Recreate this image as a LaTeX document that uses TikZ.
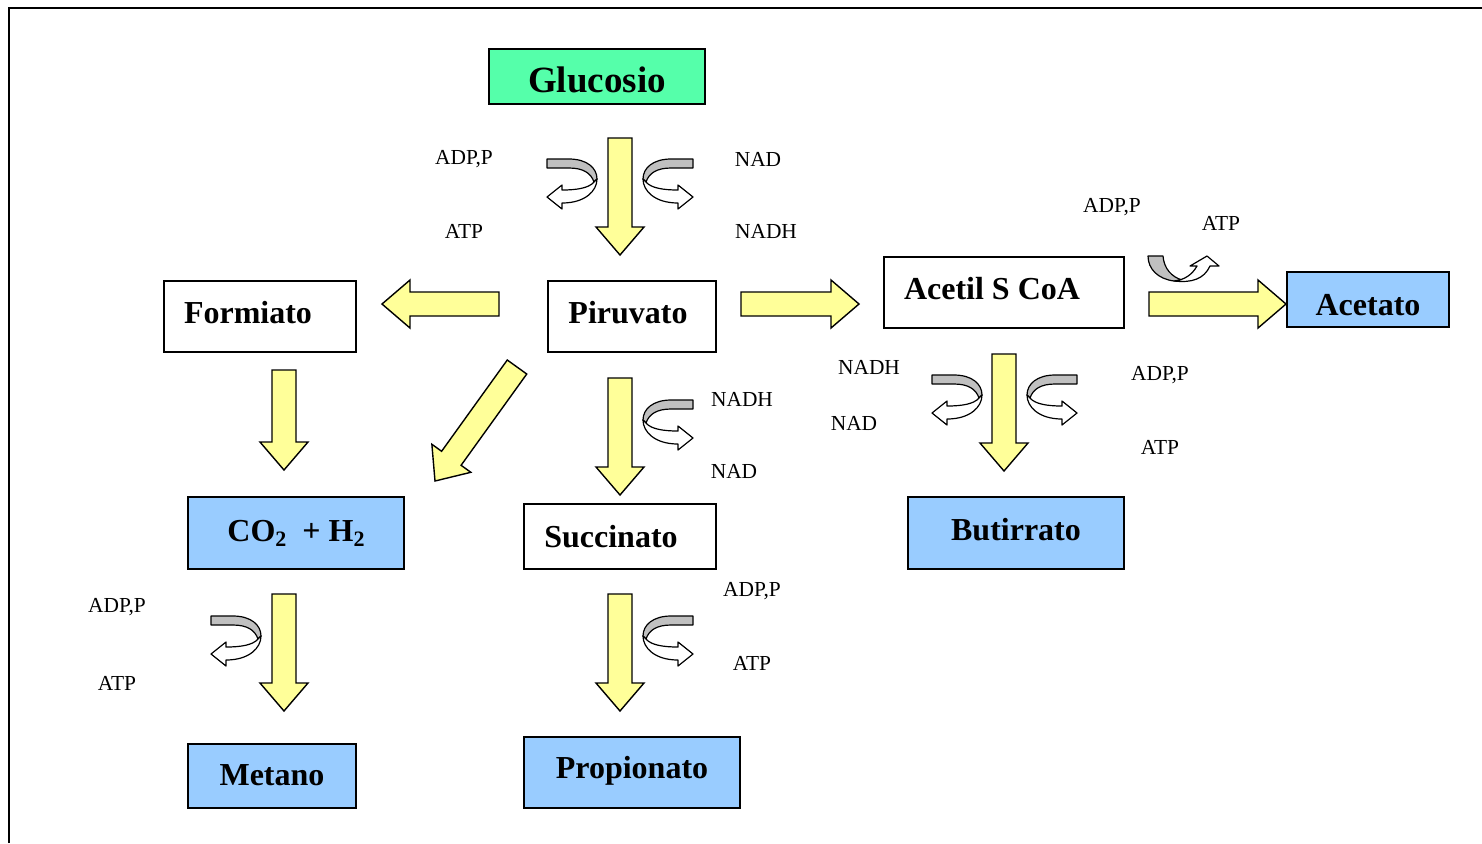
\documentclass[tikz,border=0pt]{standalone}
\usepackage{fontspec}
\setmainfont{Liberation Serif}
\usetikzlibrary{calc}
\definecolor{verdeglu}{HTML}{55FFAA}
\definecolor{azzurro}{HTML}{99CCFF}
\definecolor{giallo}{HTML}{FFFF99}
\definecolor{grigio}{HTML}{C0C0C0}
\tikzset{
  scatola/.style={draw, line width=1pt, inner sep=0pt, text height=11pt, text depth=0pt,
    font=\bfseries\fontsize{16}{19}\selectfont},
  frec/.style={draw, line width=0.7pt, fill=giallo, line join=miter},
  curva/.style={draw, line width=0.6pt, line join=round},
  etichetta/.style={font=\fontsize{10.7}{13}\selectfont, inner sep=0pt}
}
% yellow block arrow from #1 to #2
\newcommand{\frecciona}[2]{%
  \coordinate (fa) at (#1);
  \coordinate (fb) at (#2);
  \coordinate (fh) at ($(fb)!14pt!(fa)$);
  \draw[frec] ($(fa)!6pt!90:(fb)$) -- ($(fh)!6pt!-90:(fa)$) -- ($(fh)!12pt!-90:(fa)$)
    -- (fb) -- ($(fh)!12pt!90:(fa)$) -- ($(fh)!6pt!90:(fa)$) -- ($(fa)!6pt!-90:(fb)$) -- cycle;}
% curled ribbon arrow, origin #1,#2, xscale #3
\newcommand{\ricciolo}[3]{%
  \begin{scope}[shift={(#1,#2)}, xscale=#3]
    \draw[curva, fill=grigio] (0,0) -- (22,0) .. controls (40,0) and (50,9) .. (50,20)
      -- (47,23) .. controls (44,14) and (36,9) .. (22,9) -- (0,9) -- cycle;
    \draw[curva, fill=white] (47,23) .. controls (42,29) and (30,31) .. (15,31) -- (15,26)
      -- (0,38) -- (15,50) -- (15,44) .. controls (38,44) and (50,32) .. (50,20) -- cycle;
  \end{scope}}
\begin{document}
\begin{tikzpicture}[x=0.5pt, y=-0.5pt]
  \useasboundingbox (0,0) rectangle (1482,843);
  % Frame
  \draw[line width=1pt] (9,843) -- (9,8) -- (1482,8);
  % Boxes
  \node[scatola, fill=verdeglu, minimum width=108pt, minimum height=27.5pt,
    font=\bfseries\fontsize{18.5}{22}\selectfont] (Glucosio) at (597,76.5) {\raisebox{-2.5pt}{Glucosio}};
  \node[scatola, minimum width=96pt, minimum height=35.5pt] (Formiato) at (260,316.5)
    {\hspace*{-12pt}\raisebox{2pt}{Formiato}};
  \node[scatola, minimum width=84pt, minimum height=35.5pt] (Piruvato) at (632,316.5)
    {\hspace*{-4pt}\raisebox{2pt}{Piruvato}};
  \node[scatola, minimum width=120pt, minimum height=35.5pt] (Acetil) at (1004,292.5)
    {\hspace*{-12pt}\raisebox{2pt}{Acetil S CoA}};
  \node[scatola, fill=azzurro, minimum width=81pt, minimum height=27.5pt] (Acetato) at (1368,299.5)
    {\raisebox{-2.5pt}{Acetato}};
  \node[scatola, fill=azzurro, minimum width=108pt, minimum height=36pt] (CO2) at (296,533)
    {\raisebox{1.5pt}{CO\raisebox{-0.35ex}{\fontsize{11}{13}\selectfont 2}\ \ + H\raisebox{-0.35ex}{\fontsize{11}{13}\selectfont 2}}};
  \node[scatola, minimum width=96pt, minimum height=32.5pt] (Succinato) at (620,536.5)
    {\hspace*{-9pt}Succinato};
  \node[scatola, fill=azzurro, minimum width=108pt, minimum height=36pt] (Butirrato) at (1016,533)
    {\raisebox{2pt}{Butirrato}};
  \node[scatola, fill=azzurro, minimum width=84pt, minimum height=32pt] (Metano) at (272,776)
    {\raisebox{1pt}{Metano}};
  \node[scatola, fill=azzurro, minimum width=108pt, minimum height=35.5pt] (Propionato) at (632,772.5)
    {\raisebox{2.5pt}{Propionato}};
  % Block arrows
  \frecciona{$(Glucosio.south)+(23,33)$}{$(Piruvato.north)+(-12,-25)$}
  \frecciona{$(Piruvato.west)+(-48,-12.5)$}{$(Formiato.east)+(25,-12.5)$}
  \frecciona{$(Piruvato.east)+(24,-12.5)$}{$(Acetil.west)+(-24,11.5)$}
  \frecciona{$(Acetil.east)+(24,11.5)$}{$(Acetato.west)+(0,4.5)$}
  \frecciona{$(Formiato.south)+(24,17)$}{$(CO2.north)+(-12,-26)$}
  \frecciona{$(Piruvato.south)+(-12,25)$}{$(Succinato.north)+(0,-8)$}
  \frecciona{$(Acetil.south)+(0,25)$}{$(Butirrato.north)+(-12,-25)$}
  \frecciona{$(CO2.south)+(-12,24)$}{$(Metano.north)+(12,-32)$}
  \frecciona{$(Succinato.south)+(0,24)$}{$(Propionato.north)+(-12,-25)$}
  \frecciona{$(Piruvato.south west)+(-30,14)$}{$(CO2.north east)+(30,-15)$}
  % Curled arrows
  \ricciolo{547}{159}{1}
  \ricciolo{693}{159}{-1}
  \ricciolo{932}{375}{1}
  \ricciolo{1077}{375}{-1}
  \ricciolo{693}{400}{-1}
  \ricciolo{693}{616}{-1}
  \ricciolo{211}{616}{1}
  \begin{scope}[shift={(1148,255)}]
    \draw[curva, fill=grigio] (0,1) -- (15,1) .. controls (16,14) and (24,22) .. (34,25)
      -- (26,26) .. controls (10,24) and (0,14) .. (0,1) -- cycle;
    \draw[curva, fill=white] (26,26) .. controls (36,25) and (44,20) .. (49,11) -- (42,11)
      -- (59,1) -- (71,11) -- (62,11) .. controls (56,24) and (44,28) .. (26,26) -- cycle;
  \end{scope}
  % Labels
  \node[etichetta] (adp1) at (464,159) {ADP,P};
  \node[etichetta] (atp1) at (464,231) {ATP};
  \node[etichetta] (nad1) at (758,159) {NAD};
  \node[etichetta] (nadh1) at (766,231) {NADH};
  \node[etichetta] (adp2) at (1112,207) {ADP,P};
  \node[etichetta] (atp2) at (1221,223) {ATP};
  \node[etichetta] (nadh2) at (869,367) {NADH};
  \node[etichetta] (nad2) at (854,423) {NAD};
  \node[etichetta] (adp3) at (1160,375) {ADP,P};
  \node[etichetta] (atp3) at (1160,447) {ATP};
  \node[etichetta] (nadh3) at (742,399) {NADH};
  \node[etichetta] (nad3) at (734,471) {NAD};
  \node[etichetta] (adp4) at (117,607) {ADP,P};
  \node[etichetta] (atp4) at (117,683) {ATP};
  \node[etichetta] (adp5) at (752,591) {ADP,P};
  \node[etichetta] (atp5) at (752,663) {ATP};
\end{tikzpicture}
\end{document}
